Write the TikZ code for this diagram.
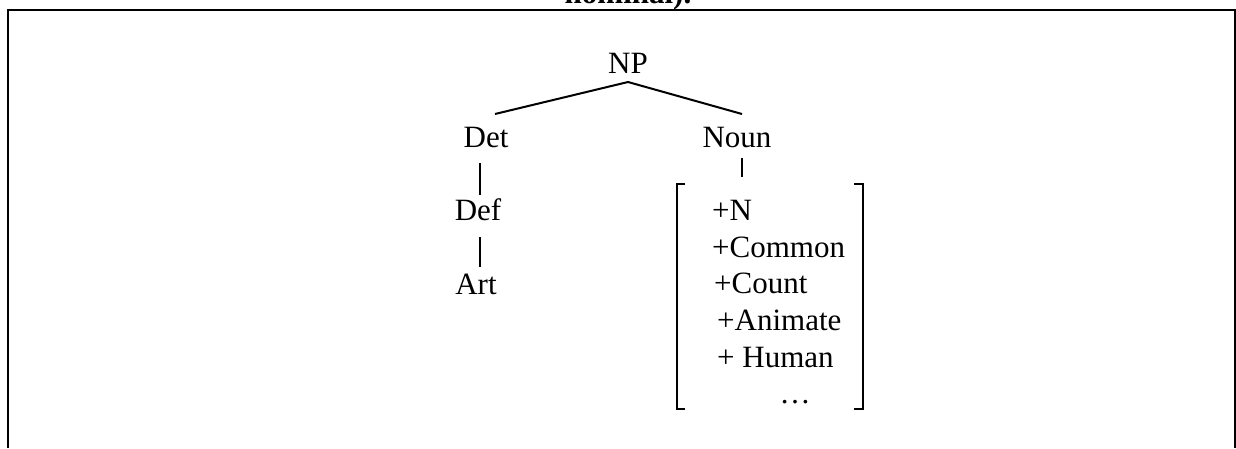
\documentclass[tikz,border=0pt]{standalone}
\usepackage{fontspec}
\setmainfont{Liberation Serif}
\begin{document}
\begin{tikzpicture}[x=1pt,y=-1pt,
  lbl/.style={inner sep=0pt, anchor=base, font=\fontsize{31}{37}\selectfont},
  feat/.style={inner sep=0pt, anchor=base west, font=\fontsize{31}{37}\selectfont},
  edge/.style={line width=2pt},
  frame/.style={line width=2pt}]
\useasboundingbox (0,0) rectangle (1236,448);
\begin{scope}
  \clip (0,0) rectangle (1236,448);
  \node[lbl, font=\fontsize{31}{37}\selectfont\bfseries] (title) at (628,3) {nominal).};
\end{scope}
% frame
\coordinate (fbl) at (8,448);
\coordinate (ftl) at (8,10);
\coordinate (ftr) at (1235,10);
\coordinate (fbr) at (1235,448);
\draw[frame] (fbl) -- (ftl) -- (ftr) -- (fbr);
% tree nodes
\node[lbl] (np) at (628,73) {NP};
\node[lbl] (det) at (486,147) {Det};
\node[lbl] (noun) at (737,147) {Noun};
\node[lbl] (def) at (478,220) {Def};
\node[lbl] (art) at (476,294) {Art};
% connector end points
\coordinate (npb) at (628,82);
\coordinate (detT) at (495,114);
\coordinate (nounT) at (742,114);
\coordinate (detB) at (480,163);
\coordinate (defT) at (480,195);
\coordinate (defB) at (480,237);
\coordinate (artT) at (480,267);
\coordinate (nounB) at (742,158);
\coordinate (featT) at (742,177);
\draw[edge] (npb) -- (detT);
\draw[edge] (npb) -- (nounT);
\draw[edge] (detB) -- (defT);
\draw[edge] (defB) -- (artT);
\draw[edge] (nounB) -- (featT);
% feature matrix
\node[feat] (f1) at (712,220) {+N};
\node[feat] (f2) at (712,257) {+Common};
\node[feat] (f3) at (714,293) {+Count};
\node[feat] (f4) at (717,330) {+Animate};
\node[feat] (f5) at (717,367) {+ Human};
\node[lbl] (f6) at (795,403) {…};
\coordinate (lb1) at (685,184);
\coordinate (lb2) at (677,184);
\coordinate (lb3) at (677,409);
\coordinate (lb4) at (685,409);
\coordinate (rb1) at (854,184);
\coordinate (rb2) at (863,184);
\coordinate (rb3) at (863,409);
\coordinate (rb4) at (854,409);
\draw[edge] (lb1) -- (lb2) -- (lb3) -- (lb4);
\draw[edge] (rb1) -- (rb2) -- (rb3) -- (rb4);
\end{tikzpicture}
\end{document}
